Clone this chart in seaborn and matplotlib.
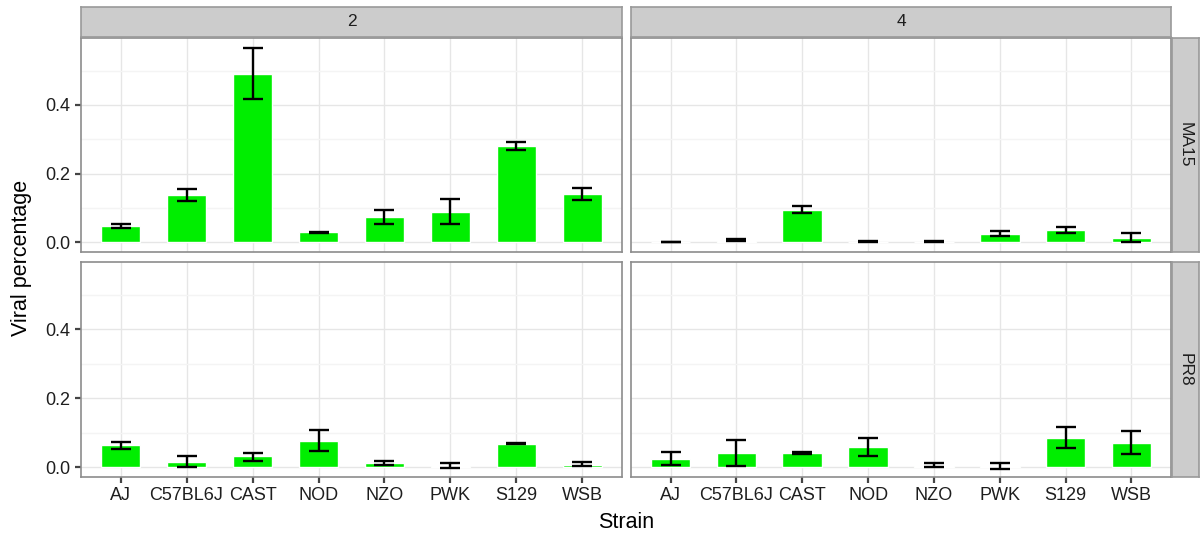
import numpy as np
import pandas as pd
import matplotlib
matplotlib.use("Agg")
import matplotlib.pyplot as plt
from matplotlib.ticker import MultipleLocator
import seaborn as sns

# ---------------- data ----------------
strains = ["AJ", "C57BL6J", "CAST", "NOD", "NZO", "PWK", "S129", "WSB"]
days = ["2", "4"]
viruses = ["MA15", "PR8"]

ma15_d2_mean = [0.047, 0.137, 0.491, 0.029, 0.073, 0.088, 0.279, 0.140]
ma15_d2_lo   = [0.040, 0.120, 0.416, 0.027, 0.052, 0.054, 0.268, 0.124]
ma15_d2_hi   = [0.054, 0.156, 0.567, 0.031, 0.093, 0.125, 0.293, 0.158]

ma15_d4_mean = [0.001, 0.005, 0.095, 0.002, 0.002, 0.024, 0.036, 0.013]
ma15_d4_lo   = [0.000, 0.003, 0.086, 0.001, 0.001, 0.018, 0.027, 0.002]
ma15_d4_hi   = [0.002, 0.008, 0.106, 0.003, 0.003, 0.032, 0.045, 0.026]

pr8_d2_mean = [0.064, 0.016, 0.031, 0.077, 0.012, 0.003, 0.068, 0.006]
pr8_d2_lo   = [0.054, 0.001, 0.019, 0.046, 0.005, -0.003, 0.066, 0.002]
pr8_d2_hi   = [0.073, 0.033, 0.042, 0.108, 0.019, 0.011, 0.071, 0.014]

pr8_d4_mean = [0.023, 0.042, 0.041, 0.058, 0.004, 0.003, 0.085, 0.071]
pr8_d4_lo   = [0.006, 0.004, 0.037, 0.033, 0.000, -0.004, 0.056, 0.039]
pr8_d4_hi   = [0.043, 0.079, 0.045, 0.086, 0.012, 0.012, 0.117, 0.104]

panels = {
    ("MA15", "2"): (ma15_d2_mean, ma15_d2_lo, ma15_d2_hi),
    ("MA15", "4"): (ma15_d4_mean, ma15_d4_lo, ma15_d4_hi),
    ("PR8", "2"): (pr8_d2_mean, pr8_d2_lo, pr8_d2_hi),
    ("PR8", "4"): (pr8_d4_mean, pr8_d4_lo, pr8_d4_hi),
}

rows = []
for (vir, day), (m, lo, hi) in panels.items():
    for s, a, b, c in zip(strains, m, lo, hi):
        rows.append(dict(Virus=vir, Day=day, Strain=s, pct=a, lo=b, hi=c))
df = pd.DataFrame(rows)

# ---------------- style ----------------
sns.set_theme(style="white")
plt.rcParams["font.family"] = ["Liberation Sans", "DejaVu Sans"]

W, H = 1201, 539
fig = plt.figure(figsize=(W / 100, H / 100), dpi=100)

GREEN = "#00EE00"
BORDER = "#8C8C8C"
STRIP = "#CCCCCC"
STRIP_EDGE = "#999999"
TXT = "#1E1E1E"

def fbox(x0, y0, x1, y1):
    """pixel box (top-left origin) -> figure coords"""
    return [x0 / W, 1 - y1 / H, (x1 - x0) / W, (y1 - y0) / H]

col_x = [(81, 622), (631, 1171)]
row_y = [(38, 252), (262, 477)]

for ri, vir in enumerate(viruses):
    for ci, day in enumerate(days):
        x0, x1 = col_x[ci]
        y0, y1 = row_y[ri]
        ax = fig.add_axes(fbox(x0, y0, x1, y1))
        sub = df[(df.Virus == vir) & (df.Day == day)]
        sns.barplot(data=sub, x="Strain", y="pct", order=strains, color=GREEN,
                    saturation=1, width=0.6, errorbar=None, ax=ax, zorder=2)
        xs = np.arange(len(strains))
        ax.errorbar(xs, sub["pct"].values,
                    yerr=[sub["pct"].values - sub["lo"].values,
                          sub["hi"].values - sub["pct"].values],
                    fmt="none", ecolor="black", elinewidth=1.7,
                    capsize=7.2, capthick=1.7, zorder=3)
        ax.set_xlim(-0.6, len(strains) - 0.4)
        ax.set_ylim(-0.0285, 0.595)
        ax.yaxis.set_major_locator(MultipleLocator(0.2))
        ax.yaxis.set_minor_locator(MultipleLocator(0.1))
        ax.set_axisbelow(True)
        ax.grid(True, which="major", color="#E6E6E6", linewidth=1.0, zorder=0)
        ax.grid(True, which="minor", axis="y", color="#F4F4F4", linewidth=1.0, zorder=0)
        ax.set_facecolor("white")
        for sp in ax.spines.values():
            sp.set_color(BORDER)
            sp.set_linewidth(1.2)
        ax.set_xlabel("")
        ax.set_ylabel("")
        ax.tick_params(axis="both", which="major", length=4.5, width=1.6,
                       color="#444444", labelsize=13, labelcolor=TXT, pad=3,
                       direction="out")
        ax.tick_params(axis="both", which="minor", length=0)
        ax.tick_params(axis="x", bottom=(ri == 1), labelbottom=(ri == 1))
        ax.tick_params(axis="y", left=(ci == 0), labelleft=(ci == 0))
        if ci == 0:
            ax.set_yticks([0.0, 0.2, 0.4])
            ax.set_yticklabels(["0.0", "0.2", "0.4"])

        # top strips
        if ri == 0:
            sax = fig.add_axes(fbox(x0, 7, x1, 37))
            sax.set_facecolor(STRIP)
            sax.set_xticks([]); sax.set_yticks([])
            for sp in sax.spines.values():
                sp.set_color(STRIP_EDGE); sp.set_linewidth(1.2)
            sax.text(0.5, 0.5, day, ha="center", va="center",
                     fontsize=12.5, color=TXT, transform=sax.transAxes)
        # right strips
        if ci == 1:
            sax = fig.add_axes(fbox(1172, y0, 1199, y1))
            sax.set_facecolor(STRIP)
            sax.set_xticks([]); sax.set_yticks([])
            for sp in sax.spines.values():
                sp.set_color(STRIP_EDGE); sp.set_linewidth(1.2)
            sax.text(0.5, 0.5, vir, ha="center", va="center", rotation=-90,
                     fontsize=12.5, color=TXT, transform=sax.transAxes)

fig.text(22 / W, 1 - 257.5 / H, "Viral percentage", rotation=90,
         ha="center", va="center", fontsize=15.5, color="black")
fig.text(626 / W, 1 - 522 / H, "Strain", ha="center", va="center",
         fontsize=15.5, color="black")

fig.savefig("out.png", dpi=100, facecolor="white")
